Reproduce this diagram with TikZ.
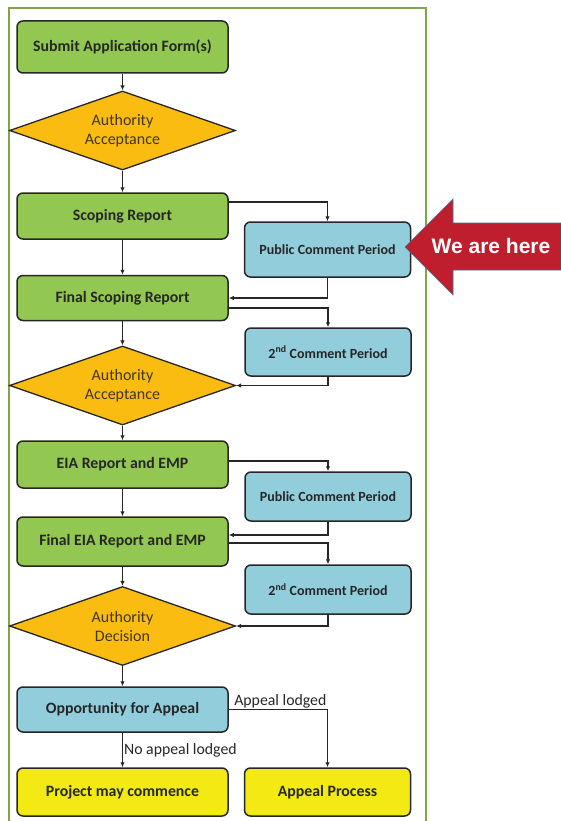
\documentclass[tikz,border=0pt]{standalone}
\usepackage{fontspec}
\setmainfont{Carlito}
\newfontfamily\arialfont{Liberation Sans}
\usetikzlibrary{shapes.geometric,arrows.meta}
\definecolor{boxgreen}{HTML}{92C851}
\definecolor{boxblue}{HTML}{92CDDC}
\definecolor{boxyellow}{HTML}{F2EA12}
\definecolor{decorange}{HTML}{FBBC12}
\definecolor{framegreen}{HTML}{7FA548}
\definecolor{herered}{HTML}{BE1E2D}
\definecolor{hereedge}{HTML}{41719C}
\definecolor{textgray}{HTML}{262626}
\definecolor{dectext}{HTML}{3F3522}
\begin{document}
\begin{tikzpicture}[x=1pt, y=-1pt,
  stepbox/.style={draw=black!85, line width=1.5pt, rounded corners=6pt, minimum width=211pt, minimum height=48pt, inner sep=0pt, font=\bfseries\fontsize{15.8}{18}\selectfont, text=textgray},
  greenbox/.style={stepbox, fill=boxgreen},
  bluebox/.style={stepbox, fill=boxblue},
  commentbox/.style={bluebox, minimum width=166pt, font=\bfseries\fontsize{14}{16}\selectfont},
  endbox/.style={stepbox, fill=boxyellow},
  decision/.style={diamond, draw=black!85, line width=1.3pt, fill=decorange, aspect=2.8, minimum width=226pt, minimum height=79pt, inner sep=0pt, align=center, text=dectext, font=\fontsize{16}{19}\selectfont},
  flow/.style={draw=black!85, line width=1.2pt, -{Latex[length=5pt,width=4.5pt]}},
  flowlabel/.style={text=textgray, font=\fontsize{15.8}{18}\selectfont, inner sep=1pt}]
\useasboundingbox (0,0) rectangle (560,821);
\draw[framegreen, line width=1.4pt] (9,8) rectangle (426,830);
\node[greenbox, minimum height=52pt] (submit) at (122.5,47) {Submit Application Form(s)};
\node[decision] (accept1) at (122.5,130.5) {Authority\\Acceptance};
\node[greenbox, minimum height=46pt] (scoping) at (122.5,216) {Scoping Report};
\node[commentbox, minimum height=55pt] (pcp1) at (327.5,249.5) {Public Comment Period};
\node[greenbox, minimum height=45pt] (final) at (122.5,298) {Final Scoping Report};
\node[commentbox] (second1) at (328,352) {2\textsuperscript{nd} Comment Period};
\node[decision] (accept2) at (122.5,385.5) {Authority\\Acceptance};
\node[greenbox, minimum height=47pt] (eia) at (122.5,464.5) {EIA Report and EMP};
\node[commentbox, minimum height=49pt] (pcp2) at (328,496.5) {Public Comment Period};
\node[greenbox, minimum height=49pt] (finaleia) at (122.5,541.5) {Final EIA Report and EMP};
\node[commentbox, minimum height=49pt] (second2) at (328,589.5) {2\textsuperscript{nd} Comment Period};
\node[decision] (decide) at (122.5,626) {Authority\\Decision};
\node[bluebox, minimum height=45pt] (appeal) at (122.5,709.5) {Opportunity for Appeal};
\node[endbox] (project) at (122.5,792) {Project may commence};
\node[endbox, minimum width=166pt] (process) at (327.5,792) {Appeal Process};
\draw[flow] (submit) -- (accept1);
\draw[flow] (accept1) -- (scoping);
\draw[flow] (scoping) -- (final);
\draw[flow] (final) -- (accept2);
\draw[flow] (accept2) -- (eia);
\draw[flow] (eia) -- (finaleia);
\draw[flow] (finaleia) -- (decide);
\draw[flow] (decide) -- (appeal);
\draw[flow] ([yshift=14pt]scoping.east) -| (pcp1.north);
\draw[flow] (pcp1.south) |- (final.east);
\draw[flow] ([yshift=-10pt]final.east) -| (second1.north);
\draw[flow] (second1.south) |- (accept2.east);
\draw[flow] ([yshift=3.5pt]eia.east) -| (pcp2.north);
\draw[flow] (pcp2.south) |- ([yshift=6.5pt]finaleia.east);
\draw[flow] ([yshift=-1.5pt]finaleia.east) -| (second2.north);
\draw[flow] (second2.south) |- (decide.east);
\draw[flow] (appeal.east) -| (process.north) node[flowlabel, pos=0.02, above right]{Appeal lodged};
\draw[flow] (appeal) -- (project) node[flowlabel, midway, right]{No appeal lodged};
\fill[herered, draw=hereedge, line width=0.6pt] (405,247) -- (453,199) -- (453,223) -- (562,223) -- (562,270) -- (453,270) -- (453,295) -- cycle;
\node[text=white, font=\arialfont\bfseries\fontsize{21}{24}\selectfont] (here) at (491,246) {We are here};
\end{tikzpicture}
\end{document}
